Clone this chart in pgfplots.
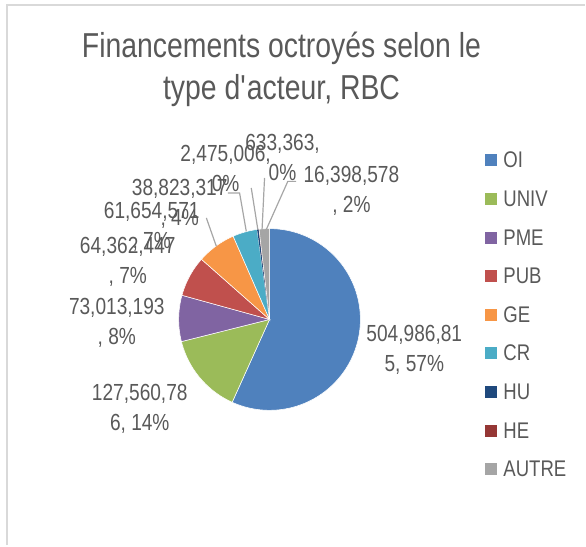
\documentclass[border=0pt]{standalone}
\usepackage{fontspec}
\setmainfont{Liberation Sans}[FakeStretch=0.82]
\usepackage{pgfplots}
\pgfplotsset{compat=1.18}

\definecolor{txt}{HTML}{595959}
\definecolor{frame}{HTML}{D9D9D9}
\definecolor{leader}{HTML}{A6A6A6}
\definecolor{cOI}{HTML}{4F81BD}
\definecolor{cUNIV}{HTML}{9BBB59}
\definecolor{cPME}{HTML}{8064A2}
\definecolor{cPUB}{HTML}{C0504D}
\definecolor{cGE}{HTML}{F79646}
\definecolor{cCR}{HTML}{4BACC6}
\definecolor{cHU}{HTML}{1F497D}
\definecolor{cHE}{HTML}{953735}
\definecolor{cAUTRE}{HTML}{A5A5A5}

% financements par type d'acteur
\def\vOI{504986815}
\def\vUNIV{127560786}
\def\vPME{73013193}
\def\vPUB{64362447}
\def\vGE{61654571}
\def\vCR{38823317}
\def\vHU{2475006}
\def\vHE{633363}
\def\vAUTRE{16398578}
\edef\vTot{\fpeval{\vOI+\vUNIV+\vPME+\vPUB+\vGE+\vCR+\vHU+\vHE+\vAUTRE}}
% slice boundaries, clockwise from 12 o'clock
\edef\aA{\fpeval{round(90-360*(\vOI)/\vTot,4)}}
\edef\aB{\fpeval{round(90-360*(\vOI+\vUNIV)/\vTot,4)}}
\edef\aC{\fpeval{round(90-360*(\vOI+\vUNIV+\vPME)/\vTot,4)}}
\edef\aD{\fpeval{round(90-360*(\vOI+\vUNIV+\vPME+\vPUB)/\vTot,4)}}
\edef\aE{\fpeval{round(90-360*(\vOI+\vUNIV+\vPME+\vPUB+\vGE)/\vTot,4)}}
\edef\aF{\fpeval{round(90-360*(\vOI+\vUNIV+\vPME+\vPUB+\vGE+\vCR)/\vTot,4)}}
\edef\aG{\fpeval{round(90-360*(\vOI+\vUNIV+\vPME+\vPUB+\vGE+\vCR+\vHU)/\vTot,4)}}
\edef\aH{\fpeval{round(90-360*(\vOI+\vUNIV+\vPME+\vPUB+\vGE+\vCR+\vHU+\vHE)/\vTot,4)}}

\newcommand\lbl{\fontsize{17.5pt}{22.5pt}\selectfont}

\begin{document}
\begin{tikzpicture}
\begin{axis}[
    scale only axis,
    width=439.5pt, height=409.5pt,
    xmin=0, xmax=586, ymin=0, ymax=546,
    y dir=reverse,
    hide axis,
    clip=false,
    pie/.style={fill=#1, draw=white, line width=0.4pt, samples=100, variable=\t},
    legend image code/.code={\fill[#1, draw=none] (0pt,-4.5pt) rectangle (9pt,4.5pt);},
    legend style={draw=none, fill=none, text=txt,
        font=\fontsize{17pt}{19pt}\selectfont,
        at={(axis cs:482,150)}, anchor=north west,
        nodes={inner sep=0pt, text height=11.5pt, text depth=0pt},
        row sep=17.5pt, column sep=4.5pt},
    legend cell align=left,
]
\addplot[pie=cOI, domain=\aA:90] ({270+91*cos(\t)},{320-91*sin(\t)}) -- (axis cs:270,320) -- cycle;
\addlegendentry{OI}
\addplot[pie=cUNIV, domain=\aB:\aA] ({270+91*cos(\t)},{320-91*sin(\t)}) -- (axis cs:270,320) -- cycle;
\addlegendentry{UNIV}
\addplot[pie=cPME, domain=\aC:\aB] ({270+91*cos(\t)},{320-91*sin(\t)}) -- (axis cs:270,320) -- cycle;
\addlegendentry{PME}
\addplot[pie=cPUB, domain=\aD:\aC] ({270+91*cos(\t)},{320-91*sin(\t)}) -- (axis cs:270,320) -- cycle;
\addlegendentry{PUB}
\addplot[pie=cGE, domain=\aE:\aD] ({270+91*cos(\t)},{320-91*sin(\t)}) -- (axis cs:270,320) -- cycle;
\addlegendentry{GE}
\addplot[pie=cCR, domain=\aF:\aE] ({270+91*cos(\t)},{320-91*sin(\t)}) -- (axis cs:270,320) -- cycle;
\addlegendentry{CR}
\addplot[pie=cHU, domain=\aG:\aF, draw=none] ({270+91*cos(\t)},{320-91*sin(\t)}) -- (axis cs:270,320) -- cycle;
\addlegendentry{HU}
\addplot[pie=cHE, domain=\aH:\aG, draw=none] ({270+91*cos(\t)},{320-91*sin(\t)}) -- (axis cs:270,320) -- cycle;
\addlegendentry{HE}
\addplot[pie=cAUTRE, domain=-270:\aH] ({270+91*cos(\t)},{320-91*sin(\t)}) -- (axis cs:270,320) -- cycle;
\addlegendentry{AUTRE}

% frame of the chart area
\draw[frame, line width=1.5pt] (axis cs:7,546) -- (axis cs:7,5) -- (axis cs:586,5);
\path (axis cs:0,0) rectangle (axis cs:586,546);

% title
\node[text=txt, align=center, font=\fontsize{26pt}{31.5pt}\selectfont]
    at (axis cs:282,69) {Financements octroyés selon le\\type d\textquotesingle acteur, RBC};

% leader lines
\draw[leader, line width=0.9pt] (axis cs:206.7,218.3) -- (axis cs:216.7,246.7);
\draw[leader, line width=0.9pt] (axis cs:228.3,193.3) -- (axis cs:240,193.3) -- (axis cs:246.7,231.7);
\draw[leader, line width=0.9pt] (axis cs:251.7,188.3) -- (axis cs:258.3,230);
\draw[leader, line width=0.9pt] (axis cs:265,178.3) -- (axis cs:262.5,230);
\draw[leader, line width=0.9pt] (axis cs:296.7,181.7) -- (axis cs:288.3,181.7) -- (axis cs:266.7,230);

% data labels
\begin{scope}[every node/.style={text=txt, align=center, font=\lbl}]
\node at (axis cs:415,350) {504,986,81\\5, 57\%};
\node at (axis cs:140,410) {127,560,78\\6, 14\%};
\node at (axis cs:117,323) {73,013,193\\, 8\%};
\node at (axis cs:128,262) {64,362,447\\, 7\%};
\node at (axis cs:152,227) {61,654,571\\, 7\%};
\node at (axis cs:180,204) {38,823,317\\, 4\%};
\node at (axis cs:226,169) {2,475,006,\\0\%};
\node at (axis cs:283,158) {633,363,\\0\%};
\node at (axis cs:352,191) {16,398,578\\, 2\%};
\end{scope}
\end{axis}
\end{tikzpicture}
\end{document}
